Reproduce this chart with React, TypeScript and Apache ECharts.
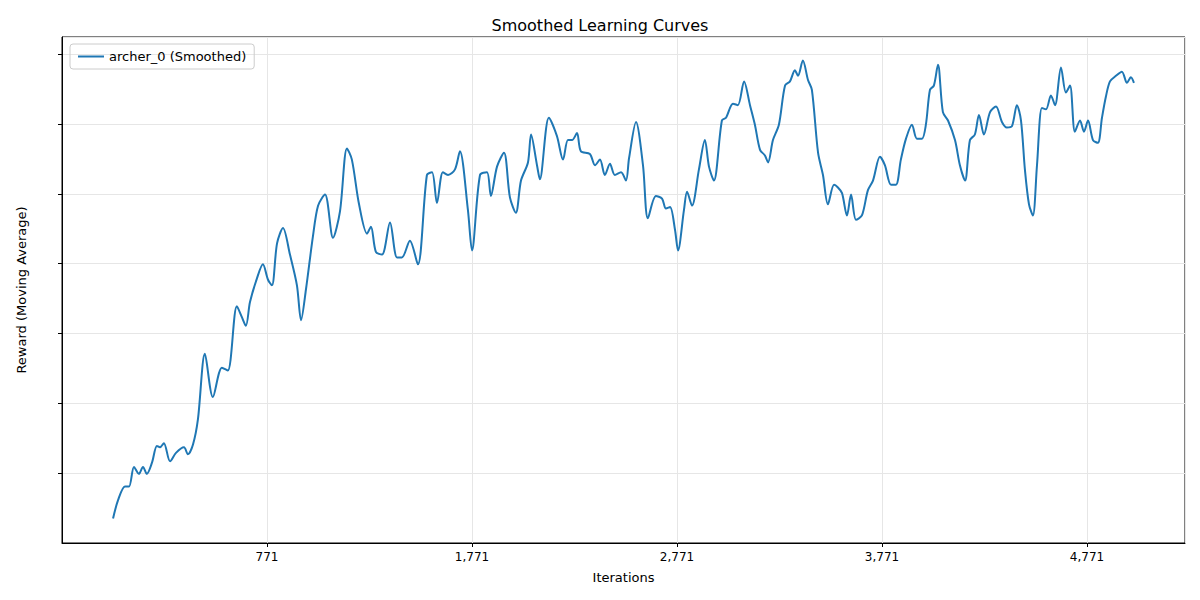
import React, { useEffect, useRef } from "react";
import * as echarts from "echarts";

const iterations = [20,44,78,98,122,146,166,185,210,234,249,268,298,327,366,385,410,434,468,507,551,580,624,649,668,688,722,751,776,795,820,849,883,917,937,961,995,1020,1054,1093,1127,1161,1185,1220,1259,1278,1302,1332,1371,1405,1429,1468,1507,1551,1576,1600,1629,1654,1688,1712,1751,1771,1810,1844,1863,1893,1927,1956,1985,2010,2044,2059,2088,2102,2146,2185,2215,2239,2259,2283,2302,2346,2371,2395,2419,2444,2468,2498,2522,2537,2571,2605,2629,2668,2698,2717,2737,2761,2776,2805,2820,2844,2878,2907,2927,2951,2990,3010,3044,3068,3098,3127,3151,3176,3200,3215,3239,3268,3298,3322,3346,3361,3385,3410,3429,3459,3483,3507,3537,3556,3576,3600,3620,3644,3673,3702,3727,3761,3785,3815,3839,3863,3888,3917,3941,3966,3985,4005,4024,4044,4068,4093,4127,4151,4176,4200,4224,4244,4268,4298,4327,4356,4380,4405,4429,4449,4468,4488,4507,4527,4551,4571,4595,4615,4644,4668,4688,4712,4737,4756,4776,4800,4824,4844,4863,4883,4912,4941,4966,4985,5000];
const rewards = [2.6,3.9,4.9,4.9,6.3,5.8,6.3,5.8,6.6,7.8,7.7,8.0,6.7,7.3,7.7,7.2,7.9,9.7,14.4,11.3,13.4,13.2,17.8,17.0,16.4,18.1,19.8,20.8,19.7,19.3,22.3,23.4,21.5,19.3,16.8,19.0,22.8,25.0,25.8,22.7,24.6,29.1,28.3,25.1,23.0,23.5,21.7,21.5,23.8,21.3,21.3,22.5,20.8,27.2,27.4,25.2,27.4,27.2,27.6,28.9,24.7,21.8,27.2,27.4,25.7,27.8,28.8,25.6,24.5,26.8,28.1,30.1,27.9,26.9,31.3,30.0,28.3,29.7,29.7,30.2,28.9,28.7,27.9,28.3,27.2,28.0,27.2,27.4,26.8,28.4,31.0,27.9,24.1,25.7,25.5,24.8,24.9,23.3,21.8,24.7,26.0,25.0,27.6,29.7,27.8,26.8,31.1,31.3,32.3,32.2,33.9,32.2,30.8,29.0,28.6,28.1,29.7,30.8,33.6,33.9,34.7,34.3,35.4,34.0,33.3,28.8,27.2,25.1,26.5,26.3,25.9,24.3,25.8,24.0,24.3,26.1,26.8,28.5,27.9,26.5,26.5,28.3,29.8,30.8,29.8,29.8,30.8,33.3,33.6,35.1,31.7,31.1,29.7,27.9,26.8,29.7,30.1,31.5,30.1,31.7,32.1,31.0,30.6,30.7,32.2,31.1,27.6,25.1,24.3,27.9,32.0,31.9,32.9,32.2,34.9,33.1,33.6,30.3,31.1,30.3,31.1,29.7,29.5,31.3,32.8,33.9,34.3,34.6,33.8,34.2,33.8];

const font = "DejaVu Sans";

const App = () => {
  const ref = useRef<HTMLDivElement>(null);

  useEffect(() => {
    if (!ref.current) return;
    document.body.style.margin = "0";
    const chart = echarts.init(ref.current, null, { renderer: "svg" });
    const axisCommon = {
      axisLine: { show: true, onZero: false, lineStyle: { color: "#000" } },
      axisTick: { show: true, inside: false, length: 4, lineStyle: { color: "#000" } },
      axisLabel: { color: "#000", fontFamily: font, fontSize: 12 },
      splitLine: { show: true, lineStyle: { color: "#e6e6e6" } },
      nameTextStyle: { color: "#000", fontFamily: font, fontSize: 13 },
    };
    chart.setOption({
      animation: false,
      backgroundColor: "#fff",
      title: {
        text: "Smoothed Learning Curves",
        left: "center",
        top: 12,
        textStyle: { fontFamily: font, fontSize: 16, fontWeight: "normal", color: "#000" },
      },
      legend: {
        left: 70,
        top: 44,
        itemWidth: 26,
        itemHeight: 2,
        icon: "rect",
        padding: [6, 8],
        borderColor: "#ccc",
        borderWidth: 1,
        borderRadius: 3,
        textStyle: { fontFamily: font, fontSize: 13, color: "#000" },
        data: ["archer_0 (Smoothed)"],
      },
      grid: { left: 62, right: 15, top: 37, bottom: 57, show: true, borderColor: "#000", borderWidth: 1 },
      xAxis: {
        type: "value",
        min: -229,
        max: 5249,
        interval: 1000,
        name: "Iterations",
        nameLocation: "middle",
        nameGap: 28,
        ...axisCommon,
        axisLabel: {
          ...axisCommon.axisLabel,
          showMinLabel: false,
          showMaxLabel: false,
        },
      },
      yAxis: {
        type: "value",
        min: 0.85,
        max: 37.08,
        interval: 5,
        name: "Reward (Moving Average)",
        nameLocation: "middle",
        nameGap: 34,
        ...axisCommon,
        axisLabel: {
          ...axisCommon.axisLabel,
          formatter: (v: number) => (Math.abs(v % 5) < 1e-6 ? String(v) : ""),
          showMinLabel: false,
          showMaxLabel: false,
        },
      },
      series: [
        {
          name: "archer_0 (Smoothed)",
          type: "line",
          data: iterations.map((x, i) => [x, rewards[i]]),
          smooth: 0.3,
          showSymbol: false,
          lineStyle: { color: "#1f77b4", width: 2 },
          itemStyle: { color: "#1f77b4" },
        },
      ],
    });
    return () => chart.dispose();
  }, []);

  return <div ref={ref} style={{ width: 1200, height: 600 }} />;
};

export default App;
